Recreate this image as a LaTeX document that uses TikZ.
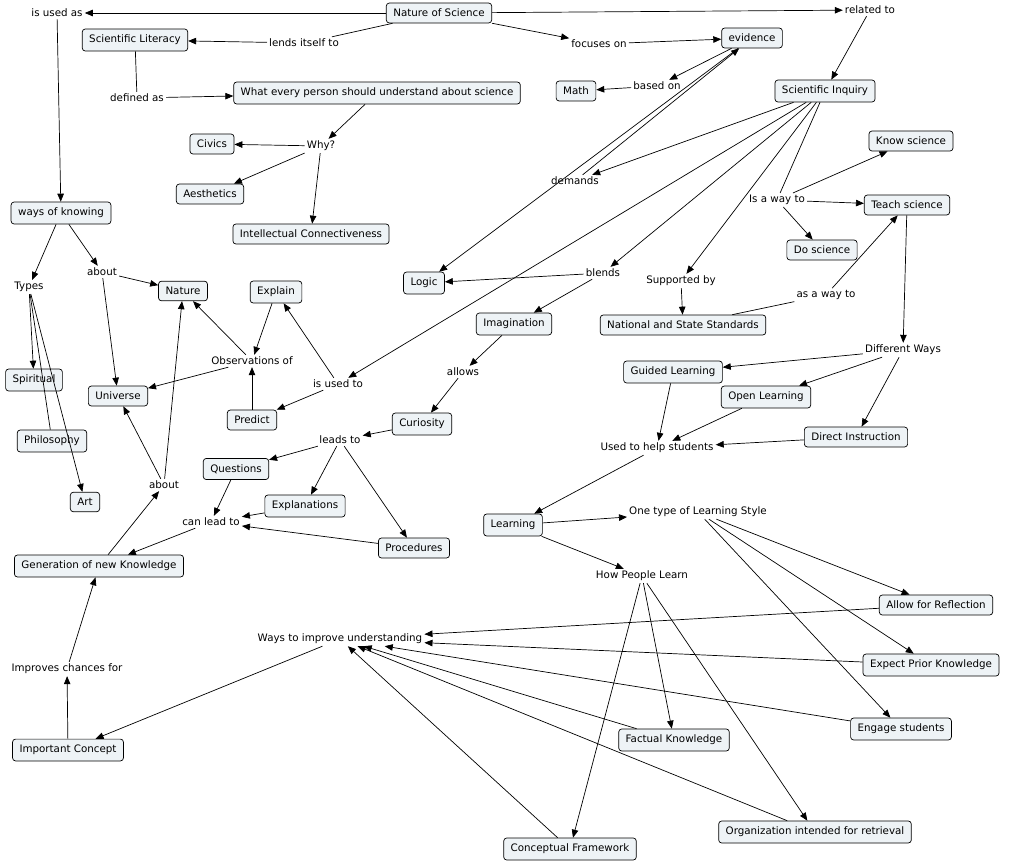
\documentclass[tikz,border=0pt]{standalone}
\usepackage{fontspec}
\setmainfont{DejaVu Sans}
\usetikzlibrary{arrows.meta}
\definecolor{boxfill}{HTML}{EEF3F6}
\begin{document}
\begin{tikzpicture}[x=1pt,y=-1pt,font=\fontsize{10.3}{12}\selectfont,
 c/.style={draw=black,fill=boxfill,rounded corners=3pt,inner xsep=7pt,inner ysep=6pt,line width=0.7pt},
 l/.style={fill=white,inner sep=2pt},
 a/.style={-{Triangle[length=8pt,width=6.5pt]},line width=0.7pt},
 p/.style={line width=0.7pt}]
\useasboundingbox[fill=white] (0,0) rectangle (1016,865);
% concepts
\node[c] (NoS) at (439,13) {Nature of Science};
\node[c] (SL) at (135,40) {Scientific Literacy};
\node[c] (ev) at (752,38) {evidence};
\node[c] (WEP) at (377,93) {What every person should understand about science};
\node[c] (Math) at (576,91) {Math};
\node[c] (SI) at (825,91) {Scientific Inquiry};
\node[c] (Civics) at (212,144) {Civics};
\node[c] (KS) at (911,141) {Know science};
\node[c] (Aes) at (210,194) {Aesthetics};
\node[c] (TS) at (907,205) {Teach science};
\node[c] (wok) at (61,213) {ways of knowing};
\node[c] (IC) at (311,234) {Intellectual Connectiveness};
\node[c] (DS) at (822,250) {Do science};
\node[c] (Explain) at (276,292) {Explain};
\node[c] (Nature) at (183,291) {Nature};
\node[c] (Logic) at (424,283) {Logic};
\node[c] (Imag) at (514,324) {Imagination};
\node[c] (NSS) at (683,325) {National and State Standards};
\node[c] (Spiritual) at (34,380) {Spiritual};
\node[c] (Universe) at (118,396) {Universe};
\node[c] (GL) at (673,372) {Guided Learning};
\node[c] (OL) at (766,397) {Open Learning};
\node[c] (Predict) at (252,420) {Predict};
\node[c] (Curiosity) at (422,424) {Curiosity};
\node[c] (DI) at (856,437) {Direct Instruction};
\node[c] (Philosophy) at (52,441) {Philosophy};
\node[c] (Questions) at (236,469) {Questions};
\node[c] (Art) at (85,502) {Art};
\node[c] (Expl) at (305,506) {Explanations};
\node[c] (Learning) at (513,525) {Learning};
\node[c] (Proc) at (414,548) {Procedures};
\node[c] (GNK) at (99,566) {Generation of new Knowledge};
\node[c] (AfR) at (936,605) {Allow for Reflection};
\node[c] (EPK) at (931,665) {Expect Prior Knowledge};
\node[c] (EngS) at (901,729) {Engage students};
\node[c] (IC2) at (68,750) {Important Concept};
\node[c] (FK) at (674,740) {Factual Knowledge};
\node[c] (OIR) at (815,832) {Organization intended for retrieval};
\node[c] (CF) at (570,849) {Conceptual Framework};
% linking phrases
\node[l] (isusedas) at (57,13) {is used as};
\node[l] (lit) at (304,43) {lends itself to};
\node[l] (relto) at (870,10) {related to};
\node[l] (focon) at (599,44) {focuses on};
\node[l] (defas) at (137,98) {defined as};
\node[l] (basedon) at (657,86) {based on};
\node[l] (why) at (321,146) {Why?};
\node[l] (demands) at (575,181) {demands};
\node[l] (isaway) at (777,200) {Is a way to};
\node[l] (about1) at (102,272) {about};
\node[l] (Types) at (29,287) {Types};
\node[l] (blends) at (603,273) {blends};
\node[l] (supby) at (681,281) {Supported by};
\node[l] (asaway) at (826,295) {as a way to};
\node[l] (obs) at (252,361) {Observations of};
\node[l] (diffways) at (903,350) {Different Ways};
\node[l] (isusedto) at (338,384) {is used to};
\node[l] (allows) at (463,372) {allows};
\node[l] (leadsto) at (340,440) {leads to};
\node[l] (used) at (657,448) {Used to help students};
\node[l] (about2) at (164,485) {about};
\node[l] (canlead) at (211,522) {can lead to};
\node[l] (otls) at (698,512) {One type of Learning Style};
\node[l] (hpl) at (642,576) {How People Learn};
\node[l] (wtiu) at (340,639) {Ways to improve understanding};
\node[l] (icf) at (67,669) {Improves chances for};
% connectors
\draw[a] (NoS) -- (isusedas);
\draw[a] (isusedas) -- (wok);
\draw[p] (NoS) -- (lit);
\draw[a] (lit) -- (SL);
\draw[a] (NoS) -- (focon);
\draw[a] (focon) -- (ev);
\draw[a] (NoS) -- (relto);
\draw[a] (relto) -- (SI);
\draw[p] (SL) -- (defas);
\draw[a] (defas) -- (WEP);
\draw[a] (WEP) -- (why);
\draw[a] (why) -- (Civics);
\draw[a] (why) -- (Aes);
\draw[a] (why) -- (IC);
\draw[a] (ev) -- (basedon);
\draw[a] (basedon) -- (Math);
\draw[a] (SI) -- (demands);
\draw[a] (demands) -- (ev);
\draw[a] (ev) -- (Logic);
\draw[a] (SI) -- (isusedto);
\draw[a] (SI) -- (blends);
\draw[a] (SI) -- (supby);
\draw[p] (SI) -- (isaway);
\draw[a] (isaway) -- (KS);
\draw[a] (isaway) -- (TS);
\draw[a] (isaway) -- (DS);
\draw[a] (blends) -- (Logic);
\draw[a] (blends) -- (Imag);
\draw[a] (supby) -- (NSS);
\draw[p] (NSS) -- (asaway);
\draw[a] (asaway) -- (TS);
\draw[a] (TS) -- (diffways);
\draw[a] (diffways) -- (GL);
\draw[a] (diffways) -- (OL);
\draw[a] (diffways) -- (DI);
\draw[a] (GL) -- (used);
\draw[a] (OL) -- (used);
\draw[a] (DI) -- (used);
\draw[a] (used) -- (Learning);
\draw[a] (Learning) -- (otls);
\draw[a] (Learning) -- (hpl);
\draw[a] (otls) -- (AfR);
\draw[a] (otls) -- (EPK);
\draw[a] (otls) -- (EngS);
\draw[a] (hpl) -- (FK);
\draw[a] (hpl) -- (CF);
\draw[a] (hpl) -- (OIR);
\draw[a] (AfR) -- (wtiu);
\draw[a] (EPK) -- (wtiu);
\draw[a] (EngS) -- (wtiu);
\draw[a] (FK) -- (wtiu);
\draw[a] (CF) -- (wtiu);
\draw[a] (OIR) -- (wtiu);
\draw[a] (wtiu) -- (IC2);
\draw[a] (IC2) -- (icf);
\draw[a] (icf) -- (GNK);
\draw[a] (GNK) -- (about2);
\draw[a] (about2) -- (Universe);
\draw[a] (about2) -- (Nature);
\draw[a] (wok) -- (Types);
\draw[a] (wok) -- (about1);
\draw[a] (about1) -- (Nature);
\draw[a] (about1) -- (Universe);
\draw[a] (Types) -- (Spiritual);
\draw[p] (Types) -- (Philosophy);
\draw[a] (Types) -- (Art);
\draw[a] (Imag) -- (allows);
\draw[a] (allows) -- (Curiosity);
\draw[a] (Curiosity) -- (leadsto);
\draw[a] (leadsto) -- (Questions);
\draw[a] (leadsto) -- (Expl);
\draw[a] (leadsto) -- (Proc);
\draw[a] (Questions) -- (canlead);
\draw[a] (Expl) -- (canlead);
\draw[a] (Proc) -- (canlead);
\draw[a] (canlead) -- (GNK);
\draw[a] (isusedto) -- (Explain);
\draw[a] (isusedto) -- (Predict);
\draw[a] (Predict) -- (obs);
\draw[a] (Explain) -- (obs);
\draw[a] (obs) -- (Nature);
\draw[a] (obs) -- (Universe);
\end{tikzpicture}
\end{document}
